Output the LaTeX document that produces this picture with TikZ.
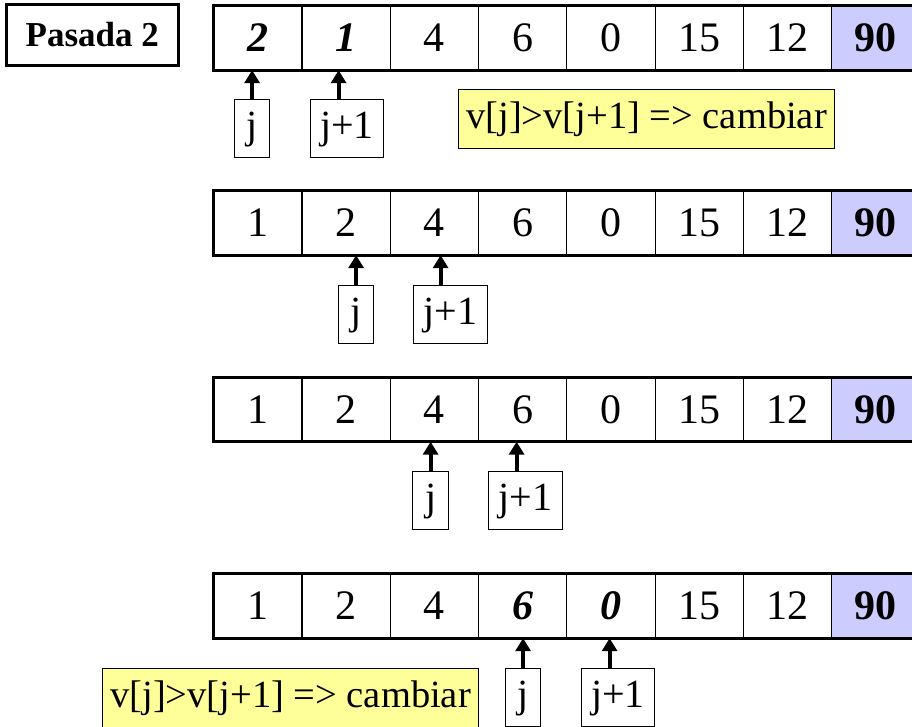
\documentclass[tikz,border=0pt]{standalone}
\usepackage{fontspec}
\setmainfont{Liberation Serif}
\usetikzlibrary{arrows.meta}
\definecolor{noteyellow}{HTML}{FFFF99}
\definecolor{maxcell}{HTML}{CCCCFF}
\tikzset{
  cell/.style={draw, line width=1.2pt, minimum width=88.3pt, minimum height=63.5pt,
    inner sep=0pt, anchor=north west, font=\fontsize{42}{50}\selectfont},
  plain/.style={},
  swapped/.style={font=\fontsize{42}{50}\selectfont\bfseries\itshape},
  maxc/.style={cell, fill=maxcell, font=\fontsize{42}{50}\selectfont\bfseries},
  outer/.style={line width=3pt},
  ptr/.style={draw, line width=1.2pt, minimum height=58pt, inner sep=0pt,
    anchor=north west, font=\fontsize{40}{48}\selectfont, text height=28pt, text depth=8pt},
  ptrarrow/.style={line width=4pt, -{Triangle[width=15pt,length=13pt]}},
  note/.style={draw, line width=1.2pt, fill=noteyellow, minimum width=376pt,
    minimum height=59pt, inner sep=0pt, anchor=north west,
    font=\fontsize{38.5}{46}\selectfont, text height=28pt, text depth=9pt},
  title/.style={draw, line width=2.5pt, minimum width=172pt, minimum height=61pt,
    inner sep=0pt, anchor=north west, font=\fontsize{35}{42}\selectfont\bfseries}
}
\begin{document}
\begin{tikzpicture}[x=1pt,y=-1pt]
\useasboundingbox (0,0) rectangle (912,726);
\fill[white] (0,0) rectangle (912,726);

\node[title] (pasada) at (5,3) {Pasada 2};

% ---------- array 1
\foreach \v/\s [count=\i from 0] in {2/swapped,1/swapped,4/plain,6/plain,0/plain,15/plain,12/plain}
  \node[cell,\s] (a1c\i) at (213+88.3*\i,5.5) {\v};
\node[maxc] (a1c7) at (213+88.3*7,5.5) {90};
\draw[outer] (a1c0.north west) rectangle (a1c7.south east);

% ---------- array 2
\foreach \v [count=\i from 0] in {1,2,4,6,0,15,12}
  \node[cell] (a2c\i) at (213+88.3*\i,190.5) {\v};
\node[maxc] (a2c7) at (213+88.3*7,190.5) {90};
\draw[outer] (a2c0.north west) rectangle (a2c7.south east);

% ---------- array 3
\foreach \v [count=\i from 0] in {1,2,4,6,0,15,12}
  \node[cell] (a3c\i) at (213+88.3*\i,377) {\v};
\node[maxc] (a3c7) at (213+88.3*7,377) {90};
\draw[outer] (a3c0.north west) rectangle (a3c7.south east);

% ---------- array 4
\foreach \v/\s [count=\i from 0] in {1/plain,2/plain,4/plain,6/swapped,0/swapped,15/plain,12/plain}
  \node[cell,\s] (a4c\i) at (213+88.3*\i,573.5) {\v};
\node[maxc] (a4c7) at (213+88.3*7,573.5) {90};
\draw[outer] (a4c0.north west) rectangle (a4c7.south east);

% ---------- pointers
\node[ptr, minimum width=35pt] (j1) at (234,99) {j};
\node[ptr, minimum width=73pt] (k1) at (310,99) {j+1};
\node[ptr, minimum width=35pt] (j2) at (338,285) {j};
\node[ptr, minimum width=74pt] (k2) at (413,285) {j+1};
\node[ptr, minimum width=36pt] (j3) at (412,471) {j};
\node[ptr, minimum width=74pt] (k3) at (488,471) {j+1};
\node[ptr, minimum width=35pt] (j4) at (505,668) {j};
\node[ptr, minimum width=73pt] (k4) at (581,668) {j+1};

\coordinate (kt1) at ([xshift=-8.5pt]k1.north);
\coordinate (kt2) at ([xshift=-10pt]k2.north);
\coordinate (kt3) at ([xshift=-9pt]k3.north);
\coordinate (kt4) at ([xshift=-8.5pt]k4.north);

\draw[ptrarrow] (j1.north) -- (j1.north |- a1c0.south);
\draw[ptrarrow] (kt1) -- (kt1 |- a1c1.south);
\draw[ptrarrow] (j2.north) -- (j2.north |- a2c1.south);
\draw[ptrarrow] (kt2) -- (kt2 |- a2c2.south);
\draw[ptrarrow] (j3.north) -- (j3.north |- a3c2.south);
\draw[ptrarrow] (kt3) -- (kt3 |- a3c3.south);
\draw[ptrarrow] (j4.north) -- (j4.north |- a4c3.south);
\draw[ptrarrow] (kt4) -- (kt4 |- a4c4.south);

% ---------- notes
\node[note] (n1) at (458,89) {v[j]>v[j+1] => cambiar};
\node[note] (n2) at (102,668) {v[j]>v[j+1] => cambiar};
\end{tikzpicture}
\end{document}
